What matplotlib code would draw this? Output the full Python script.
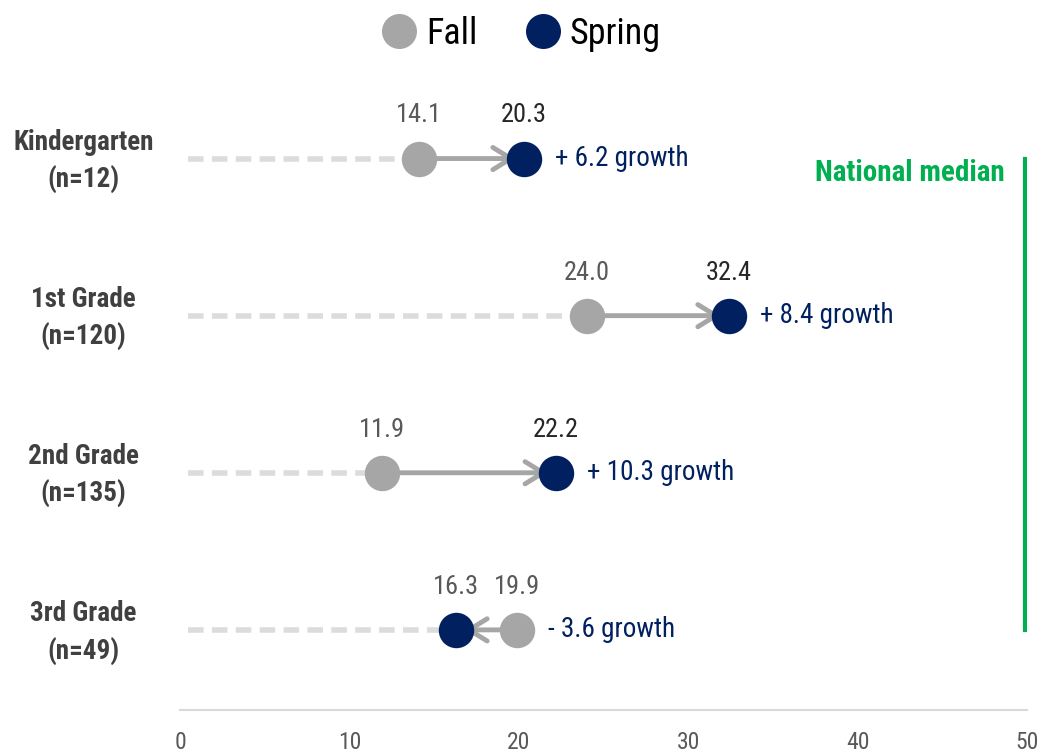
import matplotlib
matplotlib.use("Agg")
import matplotlib.pyplot as plt
from matplotlib.lines import Line2D

grades = ["Kindergarten\n(n=12)", "1st Grade\n(n=120)", "2nd Grade\n(n=135)", "3rd Grade\n(n=49)"]
fall = [14.1, 24.0, 11.9, 19.9]
spring = [20.3, 32.4, 22.2, 16.3]
growth_labels = ["+ 6.2 growth", "+ 8.4 growth", "+ 10.3 growth", "- 3.6 growth"]
national_median = 49.9
xticks = [0, 10, 20, 30, 40, 50]

plt.rcParams['font.family'] = ['Roboto Condensed', 'Liberation Sans', 'DejaVu Sans']

FALL_C = "#a6a6a6"
SPRING_C = "#002060"
GREEN = "#00b050"

fig = plt.figure(figsize=(10.43, 7.55), dpi=100)
ax = fig.add_axes([180/1043, 1-710/755, (1027-180)/1043, (710-80)/755])
ax.set_xlim(0, 50)
ax.set_ylim(3.51, -0.5)

for i, (f, s) in enumerate(zip(fall, spring)):
    lo = min(f, s)
    ax.plot([0.5, lo], [i, i], color="#dcdcdc", lw=4, ls=(0, (2.8, 1.5)), zorder=1, solid_capstyle='butt')
    ax.annotate("", xy=(s, i), xytext=(f, i),
                arrowprops=dict(arrowstyle="->,head_length=1.3,head_width=0.8", color=FALL_C, lw=3.5,
                                shrinkA=0, shrinkB=6, mutation_scale=10), zorder=2)
    ax.plot(f, i, 'o', ms=25.5, color=FALL_C, zorder=3, mec='none')
    ax.plot(s, i, 'o', ms=25.5, color=SPRING_C, zorder=4, mec='none')
    ax.text(f, i - 0.23, f"{f:.1f}", ha='center', va='baseline', fontsize=19, color="#595959")
    ax.text(s, i - 0.23, f"{s:.1f}", ha='center', va='baseline', fontsize=19,
            color="#262626" if s > f else "#595959")
    ax.text(max(f, s) + 1.85, i, growth_labels[i], ha='left', va='center', fontsize=19.5, color=SPRING_C)
    ax.text(-5.7, i + 0.02, grades[i], ha='center', va='center', fontsize=19.5, fontweight='bold',
            color="#404040", linespacing=1.45)

ax.plot([national_median, national_median], [0, 3.0], color=GREEN, lw=3, zorder=1)
ax.text(48.7, 0.09, "National median", ha='right', va='center', fontsize=21, fontweight='bold', color=GREEN)

ax.set_xticks(xticks)
ax.set_xticklabels([str(t) for t in xticks], fontsize=17, color="#595959")
ax.tick_params(axis='x', length=0, pad=15)
ax.set_yticks([])
for sp in ['top', 'right', 'left']:
    ax.spines[sp].set_visible(False)
ax.spines['bottom'].set_color("#d9d9d9")
ax.spines['bottom'].set_linewidth(1.5)

handles = [Line2D([], [], marker='o', ls='', ms=25.2, color=FALL_C, mec='none'),
           Line2D([], [], marker='o', ls='', ms=25.2, color=SPRING_C, mec='none')]
fig.legend(handles, ["Fall", "Spring"], loc='center', bbox_to_anchor=(521/1043, 1-34/755), ncol=2,
           frameon=False, fontsize=26, handletextpad=0.25, columnspacing=1.3, handlelength=1.0,
           borderpad=0, borderaxespad=0)

fig.savefig("out.png", dpi=100)
